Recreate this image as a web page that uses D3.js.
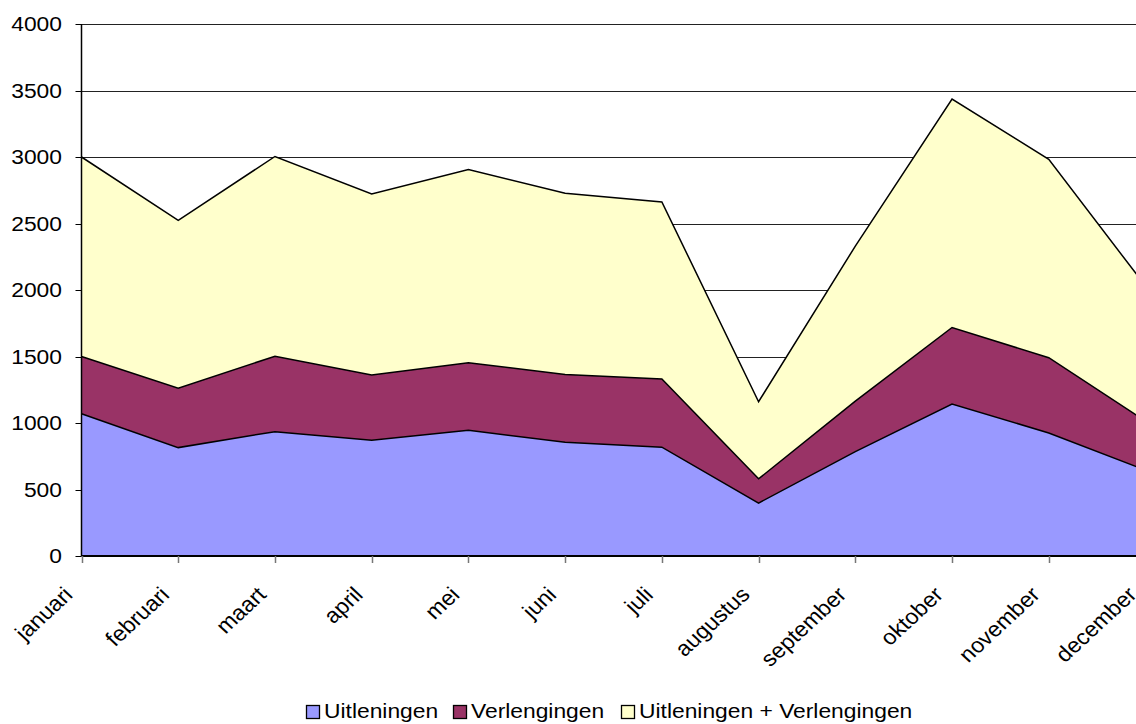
<!DOCTYPE html>
<html>
<head>
<meta charset="utf-8">
<script src="https://cdn.jsdelivr.net/npm/d3@7"></script>
<style>
  html, body { margin: 0; padding: 0; background: #fff; }
  svg { display: block; font-family: "Liberation Sans", Arial, sans-serif; }
</style>
</head>
<body>
<svg id="chart" width="1136" height="724"></svg>
<script>
// Monthly circulation figures
const months = ["januari", "februari", "maart", "april", "mei", "juni",
                "juli", "augustus", "september", "oktober", "november", "december"];
const uitleningen  = [1070, 815, 935, 870, 945, 855, 818, 398, 785, 1143, 925, 645];
const verlengingen = [430, 447, 567, 491, 508, 509, 513, 182, 380, 575, 566, 370];
const totaal       = [1500, 1262, 1502, 1361, 1453, 1364, 1331, 580, 1165, 1718, 1491, 1015];
const seriesNames  = ["Uitleningen", "Verlengingen", "Uitleningen + Verlengingen"];
const seriesColors = ["#9999ff", "#993366", "#ffffcc"];
const yTicks = [0, 500, 1000, 1500, 2000, 2500, 3000, 3500, 4000];

const svg = d3.select("#chart");

const plotLeft = 81.5, plotBottom = 556, plotTop = 24, plotRight = 1145.5;
const textStretch = 1.17;   // labels are drawn slightly wide
const fontSize = 19.5;

const x = d3.scalePoint().domain(months).range([plotLeft, plotRight]);
const y = d3.scaleLinear().domain([0, 4000]).range([plotBottom, plotTop]);

const rows = months.map((m, i) => ({
  month: m,
  [seriesNames[0]]: uitleningen[i],
  [seriesNames[1]]: verlengingen[i],
  [seriesNames[2]]: totaal[i]
}));
const stacked = d3.stack().keys(seriesNames)(rows);

// horizontal gridlines
svg.append("g")
  .selectAll("line")
  .data(yTicks.filter(d => d > 0))
  .join("line")
  .attr("x1", plotLeft).attr("x2", plotRight)
  .attr("y1", d => Math.round(y(d)) + 0.5).attr("y2", d => Math.round(y(d)) + 0.5)
  .attr("stroke", "#222").attr("stroke-width", 1);

// stacked areas
const area = d3.area()
  .x((d, i) => x(months[i]))
  .y0(d => y(d[0]))
  .y1(d => y(d[1]));
const topLine = d3.line()
  .x((d, i) => x(months[i]))
  .y(d => y(d[1]));

svg.append("g")
  .selectAll("path")
  .data(stacked)
  .join("path")
  .attr("d", area)
  .attr("fill", (d, i) => seriesColors[i]);

svg.append("g")
  .selectAll("path")
  .data(stacked)
  .join("path")
  .attr("d", topLine)
  .attr("fill", "none")
  .attr("stroke", "#000")
  .attr("stroke-width", 1.5)
  .attr("stroke-linejoin", "miter");

// y axis
const yAxis = svg.append("g");
yAxis.append("line")
  .attr("x1", plotLeft).attr("x2", plotLeft)
  .attr("y1", plotTop).attr("y2", plotBottom)
  .attr("stroke", "#000").attr("stroke-width", 1.5);
yAxis.selectAll("line.tick")
  .data(yTicks)
  .join("line")
  .attr("class", "tick")
  .attr("x1", plotLeft - 6).attr("x2", plotLeft)
  .attr("y1", d => Math.round(y(d)) + 0.5).attr("y2", d => Math.round(y(d)) + 0.5)
  .attr("stroke", "#000").attr("stroke-width", 1);
yAxis.selectAll("text")
  .data(yTicks)
  .join("text")
  .attr("transform", d => `translate(62,${y(d)}) scale(${textStretch},1)`)
  .attr("dy", "0.36em")
  .attr("text-anchor", "end")
  .attr("font-size", fontSize)
  .attr("fill", "#000")
  .text(d => d);

// x axis
const xAxis = svg.append("g");
xAxis.append("line")
  .attr("x1", plotLeft).attr("x2", plotRight)
  .attr("y1", plotBottom).attr("y2", plotBottom)
  .attr("stroke", "#000").attr("stroke-width", 2);
xAxis.selectAll("line.tick")
  .data(months)
  .join("line")
  .attr("class", "tick")
  .attr("x1", d => Math.round(x(d)) + 0.5).attr("x2", d => Math.round(x(d)) + 0.5)
  .attr("y1", plotBottom).attr("y2", plotBottom + 7)
  .attr("stroke", "#777").attr("stroke-width", 1.5);
xAxis.selectAll("text")
  .data(months)
  .join("text")
  .attr("transform", d => `translate(${x(d) - 7.5},${plotBottom + 40}) scale(1.08,1) rotate(-45)`)
  .attr("text-anchor", "end")
  .attr("font-size", 21.5)
  .attr("fill", "#000")
  .text(d => d);

// legend
const legendX = [306, 453, 621];
const legend = svg.append("g");
seriesNames.forEach((name, i) => {
  legend.append("rect")
    .attr("x", legendX[i] + 0.5).attr("y", 705.5)
    .attr("width", 13).attr("height", 13)
    .attr("fill", seriesColors[i])
    .attr("stroke", "#000").attr("stroke-width", 1.3);
  legend.append("text")
    .attr("transform", `translate(${legendX[i] + 18},718) scale(${textStretch},1)`)
    .attr("font-size", fontSize)
    .attr("fill", "#000")
    .text(name);
});
</script>
</body>
</html>
